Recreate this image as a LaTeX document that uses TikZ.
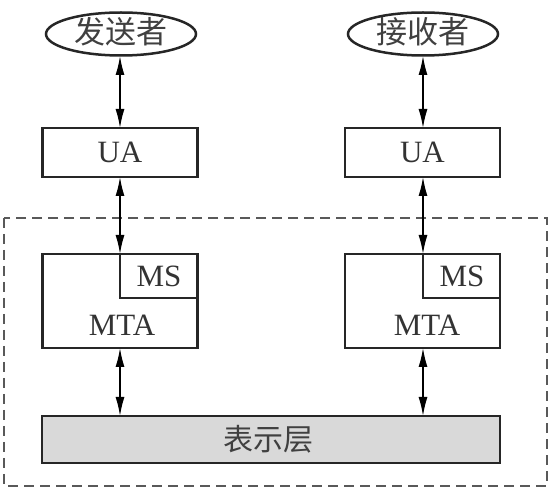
\documentclass[tikz,border=0pt]{standalone}
\usepackage{fontspec}
\setmainfont{Liberation Serif}
\newfontfamily\cjk{Noto Sans CJK SC}
\usetikzlibrary{shapes.geometric,arrows.meta}
\begin{document}
\begin{tikzpicture}[x=1pt,y=-1pt,
  box/.style={draw=black!85,line width=2.5pt,inner sep=0pt},
  oval/.style={draw=black!85,line width=2.5pt,ellipse,inner sep=0pt,minimum width=150pt,minimum height=43pt,font=\cjk\fontsize{31}{31}\selectfont},
  link/.style={line width=1.5pt,{Latex[length=19pt,width=9pt]}-{Latex[length=19pt,width=9pt]}},
  lbl/.style={font=\fontsize{31}{31}\selectfont,text=black!80}]
\useasboundingbox (0,0) rectangle (550,489);
% dashed frame
\draw[dash pattern=on 10pt off 6pt,line width=2pt,draw=black!65] (4,218) rectangle (547,486);
% ellipses
\node[oval,text=black!75] (s) at (121,34) {};
\node[oval,text=black!75] (r) at (423,34) {};
\node[font=\cjk\fontsize{31}{31}\selectfont,text=black!75] at (121,32) {发送者};
\node[font=\cjk\fontsize{31}{31}\selectfont,text=black!75] at (423,32) {接收者};
% UA
\node[box,minimum width=155pt,minimum height=49pt] (ua1) at (120,152.5) {};
\node[lbl] at (ua1) {UA};
\node[box,minimum width=155pt,minimum height=49pt] (ua2) at (422.5,152.5) {};
\node[lbl] at (ua2) {UA};
% MTA
\node[box,minimum width=155pt,minimum height=94pt] (m1) at (120,301) {};
\node[box,minimum width=155pt,minimum height=94pt] (m2) at (422.5,301) {};
\draw[draw=black!85,line width=2.5pt] (120,254) |- (197.5,298);
\draw[draw=black!85,line width=2.5pt] (423,254) |- (500,298);
\node[lbl] (ms1) at (159,276) {MS};
\node[lbl] (ms2) at (462,276) {MS};
\node[lbl] (mta1) at (122,325) {MTA};
\node[lbl] (mta2) at (427,325) {MTA};
% presentation layer
\node[box,fill=black!15,minimum width=458pt,minimum height=47pt] (p) at (271,439.5) {};
\node[font=\cjk\fontsize{30}{30}\selectfont,text=black!75] at (268,439) {表示层};
% arrows
\coordinate (a1t) at (120,56);
\coordinate (a1b) at (120,128);
\coordinate (a2t) at (120,177);
\coordinate (a2b) at (120,254);
\coordinate (a3t) at (120,348);
\coordinate (a3b) at (120,416);
\coordinate (b1t) at (423,56);
\coordinate (b1b) at (423,128);
\coordinate (b2t) at (423,177);
\coordinate (b2b) at (423,254);
\coordinate (b3t) at (423,348);
\coordinate (b3b) at (423,416);
\draw[link] (a1t) -- (a1b);
\draw[link] (a2t) -- (a2b);
\draw[link] (a3t) -- (a3b);
\draw[link] (b1t) -- (b1b);
\draw[link] (b2t) -- (b2b);
\draw[link] (b3t) -- (b3b);
\end{tikzpicture}
\end{document}
